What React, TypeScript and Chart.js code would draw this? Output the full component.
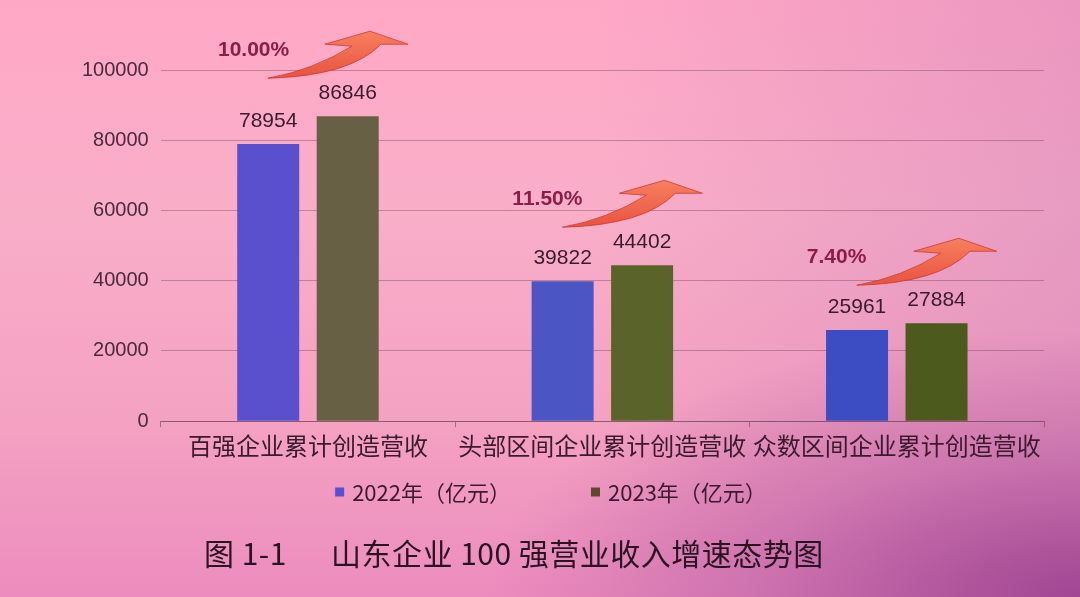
import React, { useEffect, useRef } from "react";
import { Chart, registerables } from "chart.js";

Chart.register(...registerables);

const categories = ["百强企业累计创造营收", "头部区间企业累计创造营收", "众数区间企业累计创造营收"];
const series2022 = [78954, 39822, 25961];
const series2023 = [86846, 44402, 27884];
const growthLabels = ["10.00%", "11.50%", "7.40%"];
const seriesNames = ["2022年（亿元）", "2023年（亿元）"];
const yTicks = [0, 20000, 40000, 60000, 80000, 100000];

const colors2022 = ["#5a4fcc", "#4b55c4", "#3c4dc4"];
const colors2023 = ["#676045", "#5a6329", "#4d5a1e"];
const legendColors = ["#5a4fcc", "#5e4a2a"];

const TEXT = "#3a1a2c";
const CJK = '"Noto Sans CJK SC", "Noto Sans", sans-serif';
const LATIN = '"Liberation Sans", Arial, sans-serif';

const overlayPlugin = {
  id: "overlay",
  afterDatasetsDraw(chart: any) {
    const ctx = chart.ctx as CanvasRenderingContext2D;
    const m0 = chart.getDatasetMeta(0);
    const m1 = chart.getDatasetMeta(1);
    const xs = chart.scales.x;
    ctx.save();
    // value labels
    ctx.font = `21px ${LATIN}`;
    ctx.fillStyle = TEXT;
    ctx.textAlign = "center";
    ctx.textBaseline = "middle";
    [m0, m1].forEach((meta: any, di: number) => {
      meta.data.forEach((el: any, i: number) => {
        const v = di === 0 ? series2022[i] : series2023[i];
        ctx.fillText(String(v), el.x, el.y - 23);
      });
    });
    // arrows + growth labels
    categories.forEach((_, i) => {
      const cx = xs.getPixelForValue(i);
      const top = m1.data[i].y;
      const tx = cx - 40;
      const ty = top - 38;
      ctx.save();
      ctx.translate(tx, ty);
      ctx.beginPath();
      ctx.moveTo(0, 0);
      ctx.quadraticCurveTo(45, -8, 84, -32);
      ctx.lineTo(57, -34);
      ctx.lineTo(102, -47);
      ctx.lineTo(140, -34);
      ctx.lineTo(113, -34);
      ctx.quadraticCurveTo(82, -2, 0, 0);
      ctx.closePath();
      const g = ctx.createLinearGradient(0, -47, 0, 0);
      g.addColorStop(0, "#f7805e");
      g.addColorStop(1, "#e8533f");
      ctx.fillStyle = g;
      ctx.fill();
      ctx.strokeStyle = "rgba(200,60,50,0.8)";
      ctx.lineWidth = 1;
      ctx.stroke();
      ctx.restore();

      ctx.font = `bold 21px ${LATIN}`;
      ctx.fillStyle = "#8b1d47";
      ctx.textAlign = "left";
      ctx.textBaseline = "middle";
      ctx.fillText(growthLabels[i], tx - 50, ty - 28);
    });
    ctx.restore();
  },
  afterDraw(chart: any) {
    const ctx = chart.ctx as CanvasRenderingContext2D;
    ctx.save();
    ctx.font = `22px ${CJK}`;
    ctx.textBaseline = "middle";
    ctx.textAlign = "left";
    const box = 9;
    const gapBoxText = 8;
    const gapItems = 80;
    const widths = seriesNames.map((n) => ctx.measureText(n).width);
    const total = widths.reduce((a, w) => a + box + gapBoxText + w, 0) + gapItems;
    let x = 551 - total / 2;
    const y = 492;
    seriesNames.forEach((n, i) => {
      ctx.fillStyle = legendColors[i];
      ctx.fillRect(x, y - box / 2, box, box);
      ctx.fillStyle = TEXT;
      ctx.fillText(n, x + box + gapBoxText, y + 1);
      x += box + gapBoxText + widths[i] + gapItems;
    });
    ctx.restore();
  },
};

export default function App() {
  const ref = useRef<HTMLCanvasElement | null>(null);
  useEffect(() => {
    if (!ref.current) return;
    const chart = new Chart(ref.current, {
      type: "bar",
      data: {
        labels: categories,
        datasets: [
          {
            label: seriesNames[0],
            data: series2022,
            backgroundColor: colors2022,
            barPercentage: 0.78,
            categoryPercentage: 0.54,
          },
          {
            label: seriesNames[1],
            data: series2023,
            backgroundColor: colors2023,
            barPercentage: 0.78,
            categoryPercentage: 0.54,
          },
        ],
      },
      options: {
        animation: false,
        responsive: false,
        maintainAspectRatio: false,
        layout: { padding: { top: 70, left: 70, right: 36, bottom: 133 } },
        plugins: {
          legend: { display: false },
          tooltip: { enabled: false },
          title: { display: false },
        },
        scales: {
          x: {
            grid: {
              display: true,
              drawOnChartArea: false,
              drawTicks: true,
              tickLength: 6,
              color: "rgba(110,70,90,0.6)",
            },
            border: { display: true, color: "rgba(110,70,90,0.6)" },
            ticks: {
              color: TEXT,
              font: { size: 24, family: CJK },
              padding: 4,
              maxRotation: 0,
              autoSkip: false,
            },
          },
          y: {
            min: 0,
            max: 100000,
            afterBuildTicks: (scale: any) => {
              scale.ticks = yTicks.map((v) => ({ value: v }));
            },
            grid: { color: "rgba(110,70,90,0.42)", lineWidth: 1, drawTicks: false },
            border: { display: false },
            ticks: {
              color: "#4a2a3c",
              font: { size: 20, family: LATIN },
              padding: 12,
              callback: (v: any) => String(v),
            },
          },
        },
      },
      plugins: [overlayPlugin],
    });
    return () => chart.destroy();
  }, []);

  return (
    <div
      style={{
        position: "fixed",
        left: 0,
        top: 0,
        width: 1080,
        height: 597,
        overflow: "hidden",
        background:
          "radial-gradient(ellipse 55% 45% at 100% 100%, rgba(150,60,140,0.85) 0%, rgba(160,70,150,0.35) 55%, rgba(160,70,150,0) 100%)," +
          "linear-gradient(to right, rgba(170,90,170,0) 55%, rgba(170,90,170,0.22) 100%)," +
          "linear-gradient(to bottom, #ffa8c6 0%, #f9aec8 35%, #f4a2c2 70%, #ec8cbe 100%)",
      }}
    >
      <canvas ref={ref} width={1080} height={597} style={{ position: "absolute", left: 0, top: 0 }} />
      <div
        style={{
          position: "absolute",
          left: 204,
          top: 534,
          fontFamily: CJK,
          fontSize: 30,
          lineHeight: "36px",
          letterSpacing: 0.5,
          color: "#2a1422",
          whiteSpace: "nowrap",
        }}
      >
        <span>图 1-1</span>
        <span style={{ marginLeft: 44 }}>山东企业 100 强营业收入增速态势图</span>
      </div>
    </div>
  );
}
